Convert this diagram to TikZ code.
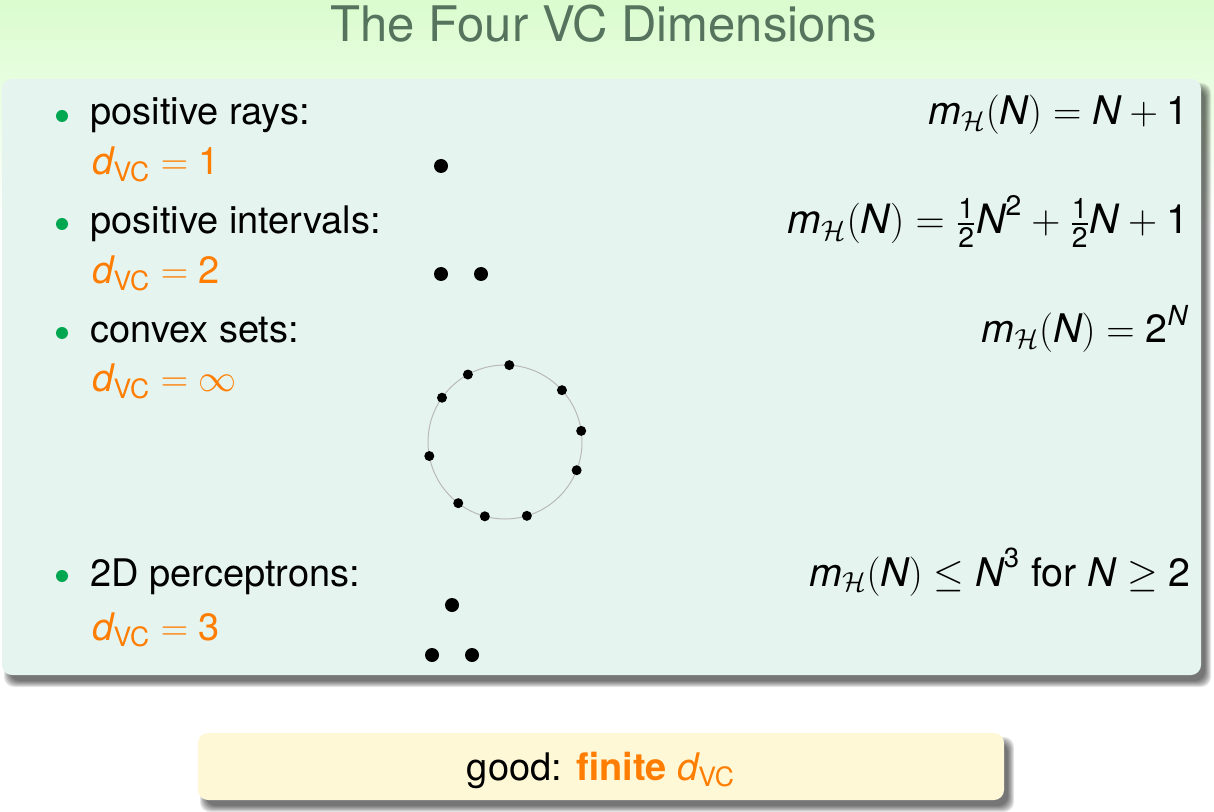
\documentclass[tikz,border=0pt]{standalone}
\usepackage{fix-cm}
\usepackage{amsmath}
\usepackage{fontspec}
\setmainfont{TeX Gyre Heros}
\usetikzlibrary{calc}
\definecolor{titlec}{RGB}{86,115,94}
\definecolor{boxc}{RGB}{229,244,238}
\definecolor{goodc}{RGB}{254,248,214}
\definecolor{orng}{RGB}{255,125,0}
\definecolor{bgreen}{RGB}{0,166,80}
\definecolor{topg}{RGB}{218,252,206}
\definecolor{ringc}{RGB}{185,185,185}
\newcommand\mH{\textit{m}_{\mathcal{H}}(\textit{N})}
\newcommand\dvc{\textit{d}_{\text{VC}}}
\begin{document}
\begin{tikzpicture}[x=0.5pt,y=-0.5pt,
  txt/.style={inner sep=0pt,font=\fontsize{19}{23}\selectfont},
  item/.style={txt,anchor=base west},
  dv/.style={txt,anchor=base west,text=orng},
  form/.style={inner sep=0pt,font=\fontsize{19.7}{23}\selectfont,anchor=base east},
  bul/.style={fill=bgreen},
  pt/.style={fill=black},
  shadowlayer/.style={fill=black,opacity=0.1,rounded corners=5pt}]
\useasboundingbox (0,0) rectangle (1214,812);
\fill[white] (0,0) rectangle (1214,812);
\shade[top color=topg,bottom color=white] (0,0) rectangle (1214,230);
% title
\node[inner sep=0pt,anchor=base,text=titlec,font=\fontsize{24.5}{29}\selectfont] (title) at (604,42) {The Four VC Dimensions};
% main box shadow
\foreach \e in {4,3,2,1,0,-1,-2}
  \fill[shadowlayer] (2+6-\e,79+8-\e) rectangle (1201+6+\e,675+8+\e);
\fill[boxc,rounded corners=5pt] (2,79) rectangle (1201,675);
% items
\fill[bul] (62,116) circle[radius=6];
\fill[bul] (62,224) circle[radius=6];
\fill[bul] (62,333) circle[radius=6];
\fill[bul] (62,576) circle[radius=6];
\node[item] (i1) at (90,125) {positive rays:};
\node[item] (i2) at (90,234) {positive intervals:};
\node[item] (i3) at (90,343) {convex sets:};
\node[item] (i4) at (90,586) {2D perceptrons:};
\node[dv] (d1) at (92,175) {$\dvc = \text{1}$};
\node[dv] (d2) at (92,284) {$\dvc = \text{2}$};
\node[dv] (d3) at (92,392) {$\dvc = \infty$};
\node[dv] (d4) at (92,640) {$\dvc = \text{3}$};
\node[form] (f1) at (1189,125) {$\mH = \textit{N} + \text{1}$};
\node[form,font=\fontsize{20.2}{24}\selectfont] (f2) at (1189,234) {$\mH = \tfrac{\text{1}}{\text{2}}\textit{N}^{\text{2}} + \tfrac{\text{1}}{\text{2}}\textit{N} + \text{1}$};
\node[form] (f3) at (1189,343) {$\mH = \text{2}^{\textit{N}}$};
\node[form] (f4) at (1191,586) {$\mH \le \textit{N}^{\text{3}}$ for $\textit{N} \ge \text{2}$};
% points
\fill[pt] (441,166) circle[radius=7];
\fill[pt] (441,274) circle[radius=7];
\fill[pt] (481,274) circle[radius=7];
\fill[pt] (452,605) circle[radius=7];
\fill[pt] (432,655) circle[radius=7];
\fill[pt] (472,655) circle[radius=7];
% convex set circle
\coordinate (cc) at (505,442);
\draw[ringc,line width=0.5pt] (cc) circle[radius=77];
\foreach \a in {86.8,118.8,144.9,190.5,232.6,254.8,286.5,338.5,8.3,42.3}
  \fill[pt] ($(cc)+({77*cos(\a)},{-77*sin(\a)})$) circle[radius=5];
% bottom box
\foreach \e in {4,3,2,1,0,-1,-2}
  \fill[shadowlayer] (198+6-\e,733+8-\e) rectangle (1004+6+\e,800+8+\e);
\fill[goodc,rounded corners=5pt] (198,733) rectangle (1004,800);
\node[txt,anchor=base] (good) at (601,780) {good: \textcolor{orng}{\textbf{finite} $\dvc$}};
\end{tikzpicture}
\end{document}
